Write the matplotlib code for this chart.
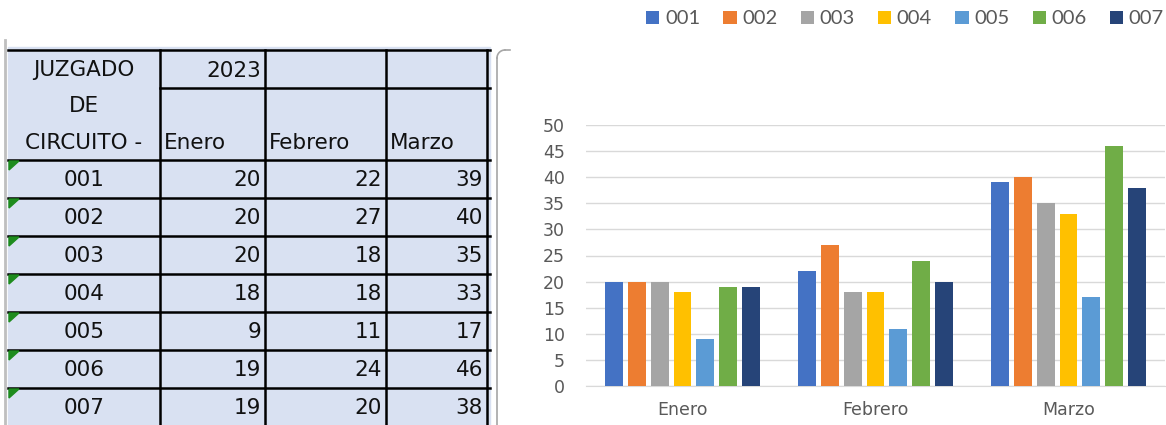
import matplotlib
matplotlib.use('Agg')
import matplotlib.pyplot as plt
import numpy as np

months = ['Enero', 'Febrero', 'Marzo']
juzgados = ['001', '002', '003', '004', '005', '006', '007']
enero = [20, 20, 20, 18, 9, 19, 19]
febrero = [22, 27, 18, 18, 11, 24, 20]
marzo = [39, 40, 35, 33, 17, 46, 38]
year_label = '2023'
header_lines = ['JUZGADO', 'DE', 'CIRCUITO -']
yticks = [0, 5, 10, 15, 20, 25, 30, 35, 40, 45, 50]
colors = ['#4472C4', '#ED7D31', '#A5A5A5', '#FFC000', '#5B9BD5', '#70AD47', '#264478']

W, H = 1166, 425
fig = plt.figure(figsize=(W / 100, H / 100), dpi=100)
fig.patch.set_facecolor('white')

# overlay in pixel coords for the spreadsheet part
ov = fig.add_axes([0, 0, 1, 1])
ov.set_xlim(0, W)
ov.set_ylim(H, 0)
ov.axis('off')

cols = [10, 160, 265, 386, 487]
rows = [50, 88, 160, 198, 236, 274, 312, 350, 388, 426]
fill = '#D9E1F2'
ov.add_patch(plt.Rectangle((8, 47), 482, 380, color=fill, zorder=0))
ov.plot([5, 5], [40, 425], color='#BFBFBF', lw=2, zorder=1)

lw = 1.8
for y in rows:
    x0 = cols[1] if y == 88 else 8
    ov.plot([x0, 490], [y, y], color='black', lw=lw, zorder=2)
for x in cols[1:]:
    ov.plot([x, x], [rows[0], 425], color='black', lw=lw, zorder=2)

tfont = dict(family=['DejaVu Sans'], fontsize=15.5, color='#111111')
for txt, y in zip(header_lines, [70, 106, 143]):
    ov.text(84, y, txt, ha='center', va='center', **tfont)
ov.text(cols[2] - 4, 71, year_label, ha='right', va='center', **tfont)
for m, x in zip(months, cols[1:4]):
    ov.text(x + 4, 143, m, ha='left', va='center', **tfont)

table_vals = list(zip(enero, febrero, marzo))
for r, (name, vals) in enumerate(zip(juzgados, table_vals)):
    yc = (rows[r + 2] + rows[r + 3]) / 2 + 1
    ov.text(84, yc, name, ha='center', va='center', **tfont)
    tri = plt.Polygon([[9, rows[r + 2] + 1], [19, rows[r + 2] + 1], [9, rows[r + 2] + 10]],
                      color='#1E8C1E', zorder=3)
    ov.add_patch(tri)
    for c, v in enumerate(vals):
        ov.text(cols[c + 2] - 4, yc, str(v), ha='right', va='center', **tfont)

# chart frame edge
ov.plot([497, 497], [58, 425], color='#A6A6A6', lw=1.2)
t = np.linspace(np.pi, 1.5 * np.pi, 20)
ov.plot(505 + 8 * np.cos(t), 58 + 8 * np.sin(t), color='#A6A6A6', lw=1.2)
ov.plot([505, 510], [50, 50], color='#A6A6A6', lw=1.2)

# chart
ax = fig.add_axes([586 / W, (H - 386) / H, 579 / W, 261 / H])
series = np.array([enero, febrero, marzo]).T
x = np.arange(len(months)) + 0.5
step = 0.118
bw = 0.093
for i, (name, vals) in enumerate(zip(juzgados, series)):
    ax.bar(x + (i - 3) * step, vals, width=bw, color=colors[i], label=name, zorder=3)

ax.set_xlim(0, 3)
ax.set_ylim(0, 50)
ax.set_yticks(yticks)
ax.set_xticks(x)
ax.set_xticklabels(months)
ax.grid(axis='y', color='#D9D9D9', lw=1, zorder=0)
for s in ['top', 'right', 'left']:
    ax.spines[s].set_visible(False)
ax.spines['bottom'].set_color('#D9D9D9')
ax.tick_params(axis='both', length=0, colors='#595959', labelsize=12.5)
ax.tick_params(axis='y', pad=15)
ax.tick_params(axis='x', pad=11)
for lab in ax.get_xticklabels() + ax.get_yticklabels():
    lab.set_family('DejaVu Sans')

leg = fig.legend(loc='center left', bbox_to_anchor=(646 / W, 1 - 19 / H), ncol=7,
                 frameon=False, handlelength=0.67, handleheight=0.67, handletextpad=0.27,
                 columnspacing=1.15, borderaxespad=0, borderpad=0,
                 prop={'family': ['Lato', 'DejaVu Sans'], 'size': 14.5})
for txt in leg.get_texts():
    txt.set_color('#595959')

fig.savefig('out.png', dpi=100)
